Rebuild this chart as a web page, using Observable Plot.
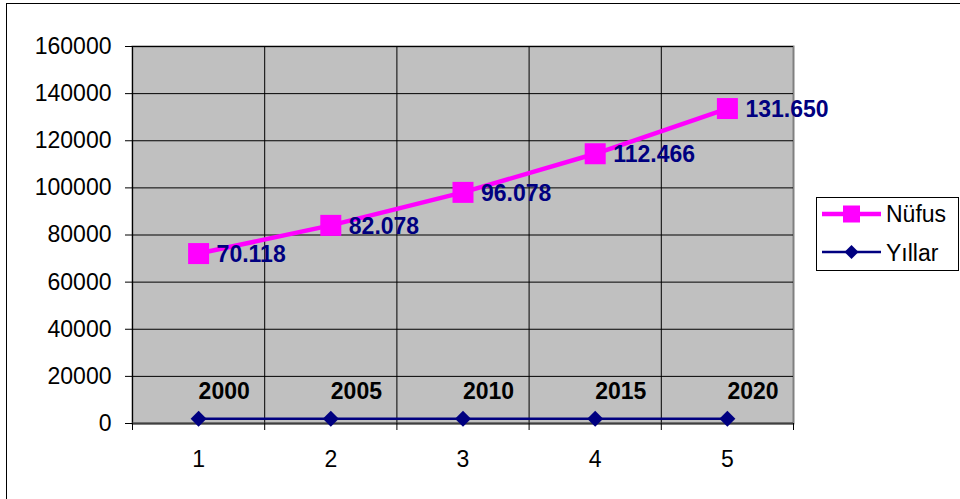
<!DOCTYPE html>
<html>
<head>
<meta charset="utf-8">
<script src="https://cdn.jsdelivr.net/npm/d3@7"></script>
<script src="https://cdn.jsdelivr.net/npm/@observablehq/plot@0.6"></script>
<style>
  html, body { margin: 0; padding: 0; background: #fff; }
  #wrap { position: relative; width: 960px; height: 499px; overflow: hidden; font-family: "Liberation Sans", Arial, sans-serif; }
  #border { position: absolute; left: 6px; top: 3px; width: 1000px; height: 600px; border: 1.5px solid #000; box-sizing: border-box; }
  #chart { position: absolute; left: 0; top: 0; }
  #legend { position: absolute; left: 816px; top: 197px; }
</style>
</head>
<body>
<div id="wrap">
  <div id="border"></div>
  <div id="chart"></div>
  <div id="legend"></div>
</div>
<script>
// Data
const points = [1, 2, 3, 4, 5];
const yillar = [2000, 2005, 2010, 2015, 2020];
const yillarLabels = ["2000", "2005", "2010", "2015", "2020"];
const nufus = [70118, 82078, 96078, 112466, 131650];
const nufusLabels = ["70.118", "82.078", "96.078", "112.466", "131.650"];
const yTicks = [0, 20000, 40000, 60000, 80000, 100000, 120000, 140000, 160000];
const seriesNames = ["Nüfus", "Yıllar"];

// Stacked line chart: Nüfus sits on top of Yıllar
const yillarRows = points.map((p, i) => ({x: p, y: yillar[i], label: yillarLabels[i]}));
const nufusRows = points.map((p, i) => ({x: p, y: yillar[i] + nufus[i], label: nufusLabels[i]}));
const boundaries = [0.5, 1.5, 2.5, 3.5, 4.5, 5.5];
const innerBoundaries = boundaries.slice(1, -1);

const navy = "#000080";
const pink = "#FF00FF";

const chart = Plot.plot({
  width: 960,
  height: 499,
  marginLeft: 132,
  marginRight: 167,
  marginTop: 46,
  marginBottom: 76,
  x: {domain: [0.5, 5.5], label: null},
  y: {domain: [0, 160000], label: null},
  style: {fontFamily: "'Liberation Sans', Arial, sans-serif", fontSize: "23px", background: "transparent", overflow: "visible", color: "#000"},
  marks: [
    Plot.frame({fill: "#C0C0C0", stroke: "#808080", strokeWidth: 2}),
    Plot.gridY(yTicks, {stroke: "#000", strokeOpacity: 1, strokeWidth: 1}),
    Plot.gridX(innerBoundaries, {stroke: "#000", strokeOpacity: 1, strokeWidth: 1}),
    Plot.ruleX([0.5], {stroke: "#000", strokeWidth: 1}),
    Plot.ruleY([0], {stroke: "#404040", strokeWidth: 2}),
    Plot.axisY(yTicks, {tickSize: 7, tickPadding: 14, tickFormat: d => String(d), stroke: "#000", fontSize: 23, label: null}),
    Plot.axisX(boundaries, {tickSize: 7, tickFormat: () => "", stroke: "#000", label: null}),
    Plot.axisX(points, {tickSize: 0, tickPadding: 27, tickFormat: d => String(d), fontSize: 23, label: null}),
    Plot.line(yillarRows, {x: "x", y: "y", stroke: navy, strokeWidth: 2.5}),
    Plot.dot(yillarRows, {x: "x", y: "y", symbol: "diamond2", r: 7.2, fill: navy, stroke: "none"}),
    Plot.line(nufusRows, {x: "x", y: "y", stroke: pink, strokeWidth: 4.5}),
    Plot.dot(nufusRows, {x: "x", y: "y", symbol: "square", r: 11.85, fill: pink, stroke: "none"}),
    Plot.text(nufusRows, {x: "x", y: "y", text: "label", textAnchor: "start", dx: 18, dy: 1, fill: navy, fontWeight: "bold", fontSize: 23}),
    Plot.text(yillarRows, {x: "x", y: "y", text: "label", textAnchor: "start", dx: 0, dy: -27, fill: "#000", fontWeight: "bold", fontSize: 23})
  ]
});
document.getElementById("chart").appendChild(chart);

// Legend
const ns = "http://www.w3.org/2000/svg";
const lg = document.createElementNS(ns, "svg");
lg.setAttribute("width", 144);
lg.setAttribute("height", 75);
lg.style.fontFamily = "'Liberation Sans', Arial, sans-serif";
function el(tag, attrs, text) {
  const e = document.createElementNS(ns, tag);
  for (const k in attrs) e.setAttribute(k, attrs[k]);
  if (text) e.textContent = text;
  lg.appendChild(e);
  return e;
}
el("rect", {x: 0.5, y: 0.5, width: 142, height: 73, fill: "#fff", stroke: "#000", "stroke-width": 1});
// Nüfus
el("line", {x1: 6, x2: 65, y1: 17, y2: 17, stroke: pink, "stroke-width": 4.5});
el("rect", {x: 27, y: 8.5, width: 17, height: 17, fill: pink});
el("text", {x: 70, y: 17, "font-size": 23, "dominant-baseline": "central", fill: "#000"}, seriesNames[0]);
// Yıllar
el("line", {x1: 6, x2: 65, y1: 55, y2: 55, stroke: navy, "stroke-width": 2.5});
el("polygon", {points: "35.5,48 42.5,55 35.5,62 28.5,55", fill: navy});
el("text", {x: 70, y: 56, "font-size": 23, "dominant-baseline": "central", fill: "#000"}, seriesNames[1]);
document.getElementById("legend").appendChild(lg);
</script>
</body>
</html>
